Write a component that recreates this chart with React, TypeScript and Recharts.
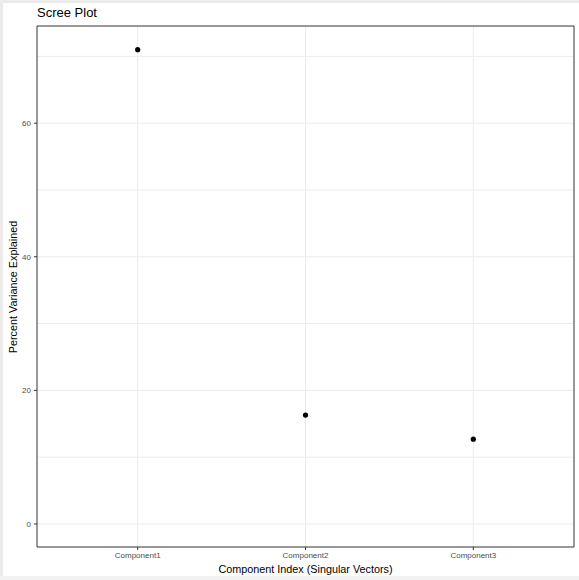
import { ScatterChart, Scatter, XAxis, YAxis, CartesianGrid, ReferenceArea } from 'recharts';

// Scree plot — percent variance explained per component (ggplot theme_bw look)
const components = ['Component1', 'Component2', 'Component3'];
const varianceExplained = [71.0, 16.3, 12.7];
const yTicks = [0, 20, 40, 60];
const yGrid = [0, 10, 20, 30, 40, 50, 60, 70];
const xTicks = [1, 2, 3];

const data = components.map((name, i) => ({ idx: i + 1, name, pct: varianceExplained[i] }));

const Y_DOMAIN: [number, number] = [-3.45, 74.55];
const X_DOMAIN: [number, number] = [0.4, 3.6];
const FONT = '"Liberation Sans", Arial, Helvetica, sans-serif';

export default function App() {
  return (
    <div style={{ position: 'relative', width: 579, height: 580, background: '#fff', fontFamily: FONT, overflow: 'hidden' }}>
      <style>{'body{margin:0}'}</style>
      <div style={{ position: 'absolute', left: 0, top: 0, width: 579, height: 3, background: '#ebebeb' }} />
      <div style={{ position: 'absolute', left: 0, top: 0, width: 3, height: 580, background: '#ebebeb' }} />
      <div style={{ position: 'absolute', left: 0, top: 576, width: 579, height: 4, background: '#f2f2f2' }} />
      <div style={{ position: 'absolute', left: 37, top: 5, fontSize: 13, color: '#000', lineHeight: '16px' }}>Scree Plot</div>
      <div style={{ position: 'absolute', left: 37, width: 537, top: 562, textAlign: 'center', fontSize: 10.8, color: '#000', lineHeight: '14px' }}>
        Component Index (Singular Vectors)
      </div>
      <div
        style={{
          position: 'absolute',
          left: 13,
          top: 286.5,
          transform: 'translate(-50%, -50%) rotate(-90deg)',
          whiteSpace: 'nowrap',
          fontSize: 10.8,
          color: '#000',
          lineHeight: '14px',
        }}
      >
        Percent Variance Explained
      </div>
      <div style={{ position: 'absolute', left: 0, top: 0 }}>
        <ScatterChart width={579} height={580} margin={{ top: 26, right: 5, bottom: 0, left: 0 }}>
          <CartesianGrid stroke="#ebebeb" horizontalValues={yGrid} verticalValues={xTicks} strokeWidth={1} />
          <XAxis
            dataKey="idx"
            type="number"
            domain={X_DOMAIN}
            ticks={xTicks}
            allowDataOverflow
            tickFormatter={(v: number) => components[v - 1] ?? ''}
            height={33}
            tickSize={3}
            tickMargin={2}
            tick={{ fontSize: 8, fill: '#4d4d4d', fontFamily: FONT }}
            tickLine={{ stroke: '#333333' }}
            axisLine={false}
          />
          <YAxis
            dataKey="pct"
            type="number"
            domain={Y_DOMAIN}
            ticks={yTicks}
            allowDataOverflow
            width={37}
            tickSize={3}
            tickMargin={3}
            tick={{ fontSize: 8, fill: '#4d4d4d', fontFamily: FONT }}
            tickLine={{ stroke: '#333333' }}
            axisLine={false}
          />
          <ReferenceArea
            x1={X_DOMAIN[0]}
            x2={X_DOMAIN[1]}
            y1={Y_DOMAIN[0]}
            y2={Y_DOMAIN[1]}
            fill="none"
            stroke="#333333"
            strokeWidth={1}
            ifOverflow="extendDomain"
          />
          <Scatter
            data={data}
            fill="#000"
            isAnimationActive={false}
            shape={(p: any) => <circle cx={p.cx} cy={p.cy} r={2.6} fill="#000" />}
          />
        </ScatterChart>
      </div>
    </div>
  );
}
